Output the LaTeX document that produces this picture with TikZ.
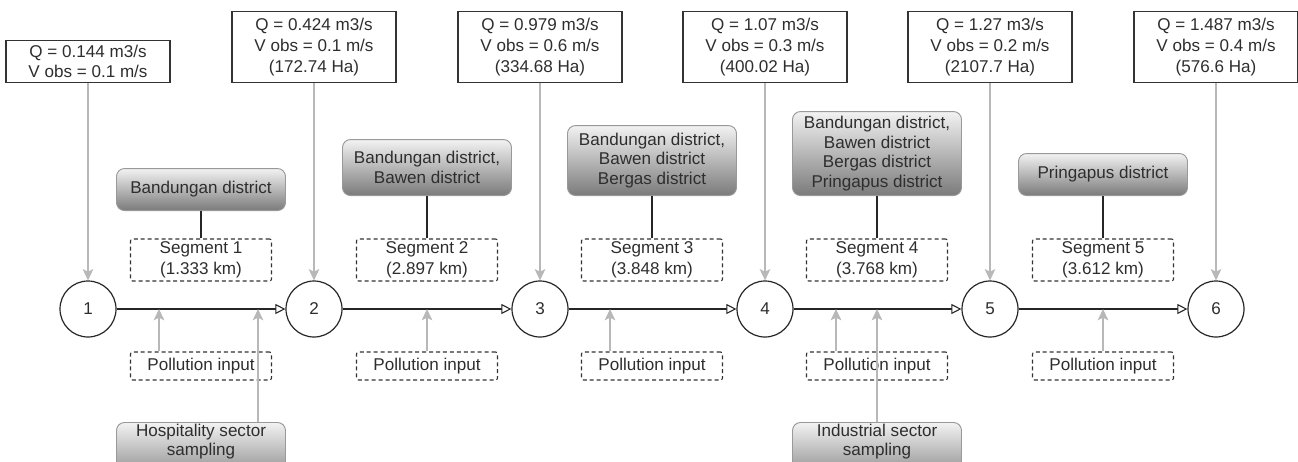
\documentclass[tikz,border=0pt]{standalone}
\usepackage{fontspec}
\setmainfont{Liberation Sans}
\usetikzlibrary{arrows.meta}

\tikzset{
  flowbox/.style={draw=black!80, line width=0.9pt, fill=white, align=center,
    minimum width=123pt, inner sep=1pt, anchor=south,
    font=\fontsize{12.8}{15.6}\selectfont},
  distbox/.style={draw=black!40, line width=0.7pt, rounded corners=6pt,
    top color=black!5, bottom color=black!52, align=center,
    minimum width=126.75pt, inner xsep=3pt, inner ysep=1pt,
    font=\fontsize{12.8}{14.6}\selectfont},
  segbox/.style={draw=black!80, line width=0.8pt, dash pattern=on 3pt off 2.2pt,
    rounded corners=1.5pt, align=center, minimum width=105.75pt, inner sep=1pt,
    font=\fontsize{12.8}{15.6}\selectfont},
  station/.style={circle, draw=black!85, line width=0.9pt, minimum size=42pt,
    inner sep=0pt, fill=white},
  flow/.style={draw=black!85, line width=0.8pt,
    -{Triangle[open, length=7.5pt, width=7.5pt, fill=white]}},
  feed/.style={draw=black!28, line width=1.1pt,
    -{Stealth[length=8.5pt, width=8pt, inset=2pt]}},
  link/.style={draw=black!85, line width=0.8pt}
}

\begin{document}
\begin{tikzpicture}[x=0.75pt, y=-0.75pt, text=black!82]
\useasboundingbox (0,0) rectangle (1298,461);
\clip (0,0) rectangle (1298,461);

% stations along the river
\foreach \i/\x in {1/88,2/314,3/540,4/765,5/990,6/1216}
  \node[station, font=\fontsize{12.8}{15}\selectfont] (n\i) at (\x,309) {\i};
\foreach \i/\j in {1/2,2/3,3/4,4/5,5/6}
  \draw[flow] (n\i) -- (n\j);

% discharge at each station
\node[flowbox, minimum height=31.5pt] (q1) at (88,83) {Q = 0.144 m3/s\\V obs = 0.1 m/s};
\node[flowbox, minimum height=53.25pt] (q2) at (314,83) {Q = 0.424 m3/s\\V obs = 0.1 m/s\\(172.74 Ha)};
\node[flowbox, minimum height=53.25pt] (q3) at (540,83) {Q = 0.979 m3/s\\V obs = 0.6 m/s\\(334.68 Ha)};
\node[flowbox, minimum height=53.25pt] (q4) at (765,83) {Q = 1.07 m3/s\\V obs = 0.3 m/s\\(400.02 Ha)};
\node[flowbox, minimum height=53.25pt] (q5) at (990,83) {Q = 1.27 m3/s\\V obs = 0.2 m/s\\(2107.7 Ha)};
\node[flowbox, minimum height=53.25pt] (q6) at (1216,83) {Q = 1.487 m3/s\\V obs = 0.4 m/s\\(576.6 Ha)};
\foreach \i in {1,...,6}
  \draw[feed] (q\i.south) -- (n\i.north);

% districts
\node[distbox, anchor=south, minimum height=31.5pt] (d1) at (201,211) {Bandungan district};
\node[distbox, anchor=south, minimum height=42pt] (d2) at (427,196) {Bandungan district,\\Bawen district};
\node[distbox, anchor=south, minimum height=52.5pt] (d3) at (652,196) {Bandungan district,\\Bawen district\\Bergas district};
\node[distbox, anchor=south, minimum height=63pt] (d4) at (877,196) {Bandungan district,\\Bawen district\\Bergas district\\Pringapus district};
\node[distbox, anchor=south, minimum height=31.5pt] (d5) at (1103,196) {Pringapus district};

% segments and pollution input
\node[segbox, minimum height=31.5pt] (s1) at (201,260) {Segment 1\\(1.333 km)};
\node[segbox, minimum height=31.5pt] (s2) at (427,260) {Segment 2\\(2.897 km)};
\node[segbox, minimum height=31.5pt] (s3) at (652,260) {Segment 3\\(3.848 km)};
\node[segbox, minimum height=31.5pt] (s4) at (877,260) {Segment 4\\(3.768 km)};
\node[segbox, minimum height=31.5pt] (s5) at (1103,260) {Segment 5\\(3.612 km)};
\foreach \i in {1,...,5}{
  \draw[link] (d\i.south) -- (s\i.north);
  \node[segbox, minimum height=21pt] (p\i) at (s\i |- 0,366) {Pollution input};
}
\foreach \i/\dx in {1/-42,2/0,3/-42,4/-41,5/0}{
  \coordinate (a\i) at ([xshift=\dx*0.75pt]p\i.north);
  \draw[feed] (a\i) -- (a\i |- n1.center);
}

% sampling points
\node[distbox, anchor=north, text depth=22pt] (hs) at (201,422) {Hospitality sector\\sampling};
\node[distbox, anchor=north, text depth=22pt] (is) at (877,422) {Industrial sector\\sampling};
\coordinate (h) at ([xshift=42.75pt]hs.north);
\draw[feed] (h) -- (h |- n1.center);
\draw[feed] (is.north) -- (is.north |- n4.center);
\end{tikzpicture}
\end{document}
